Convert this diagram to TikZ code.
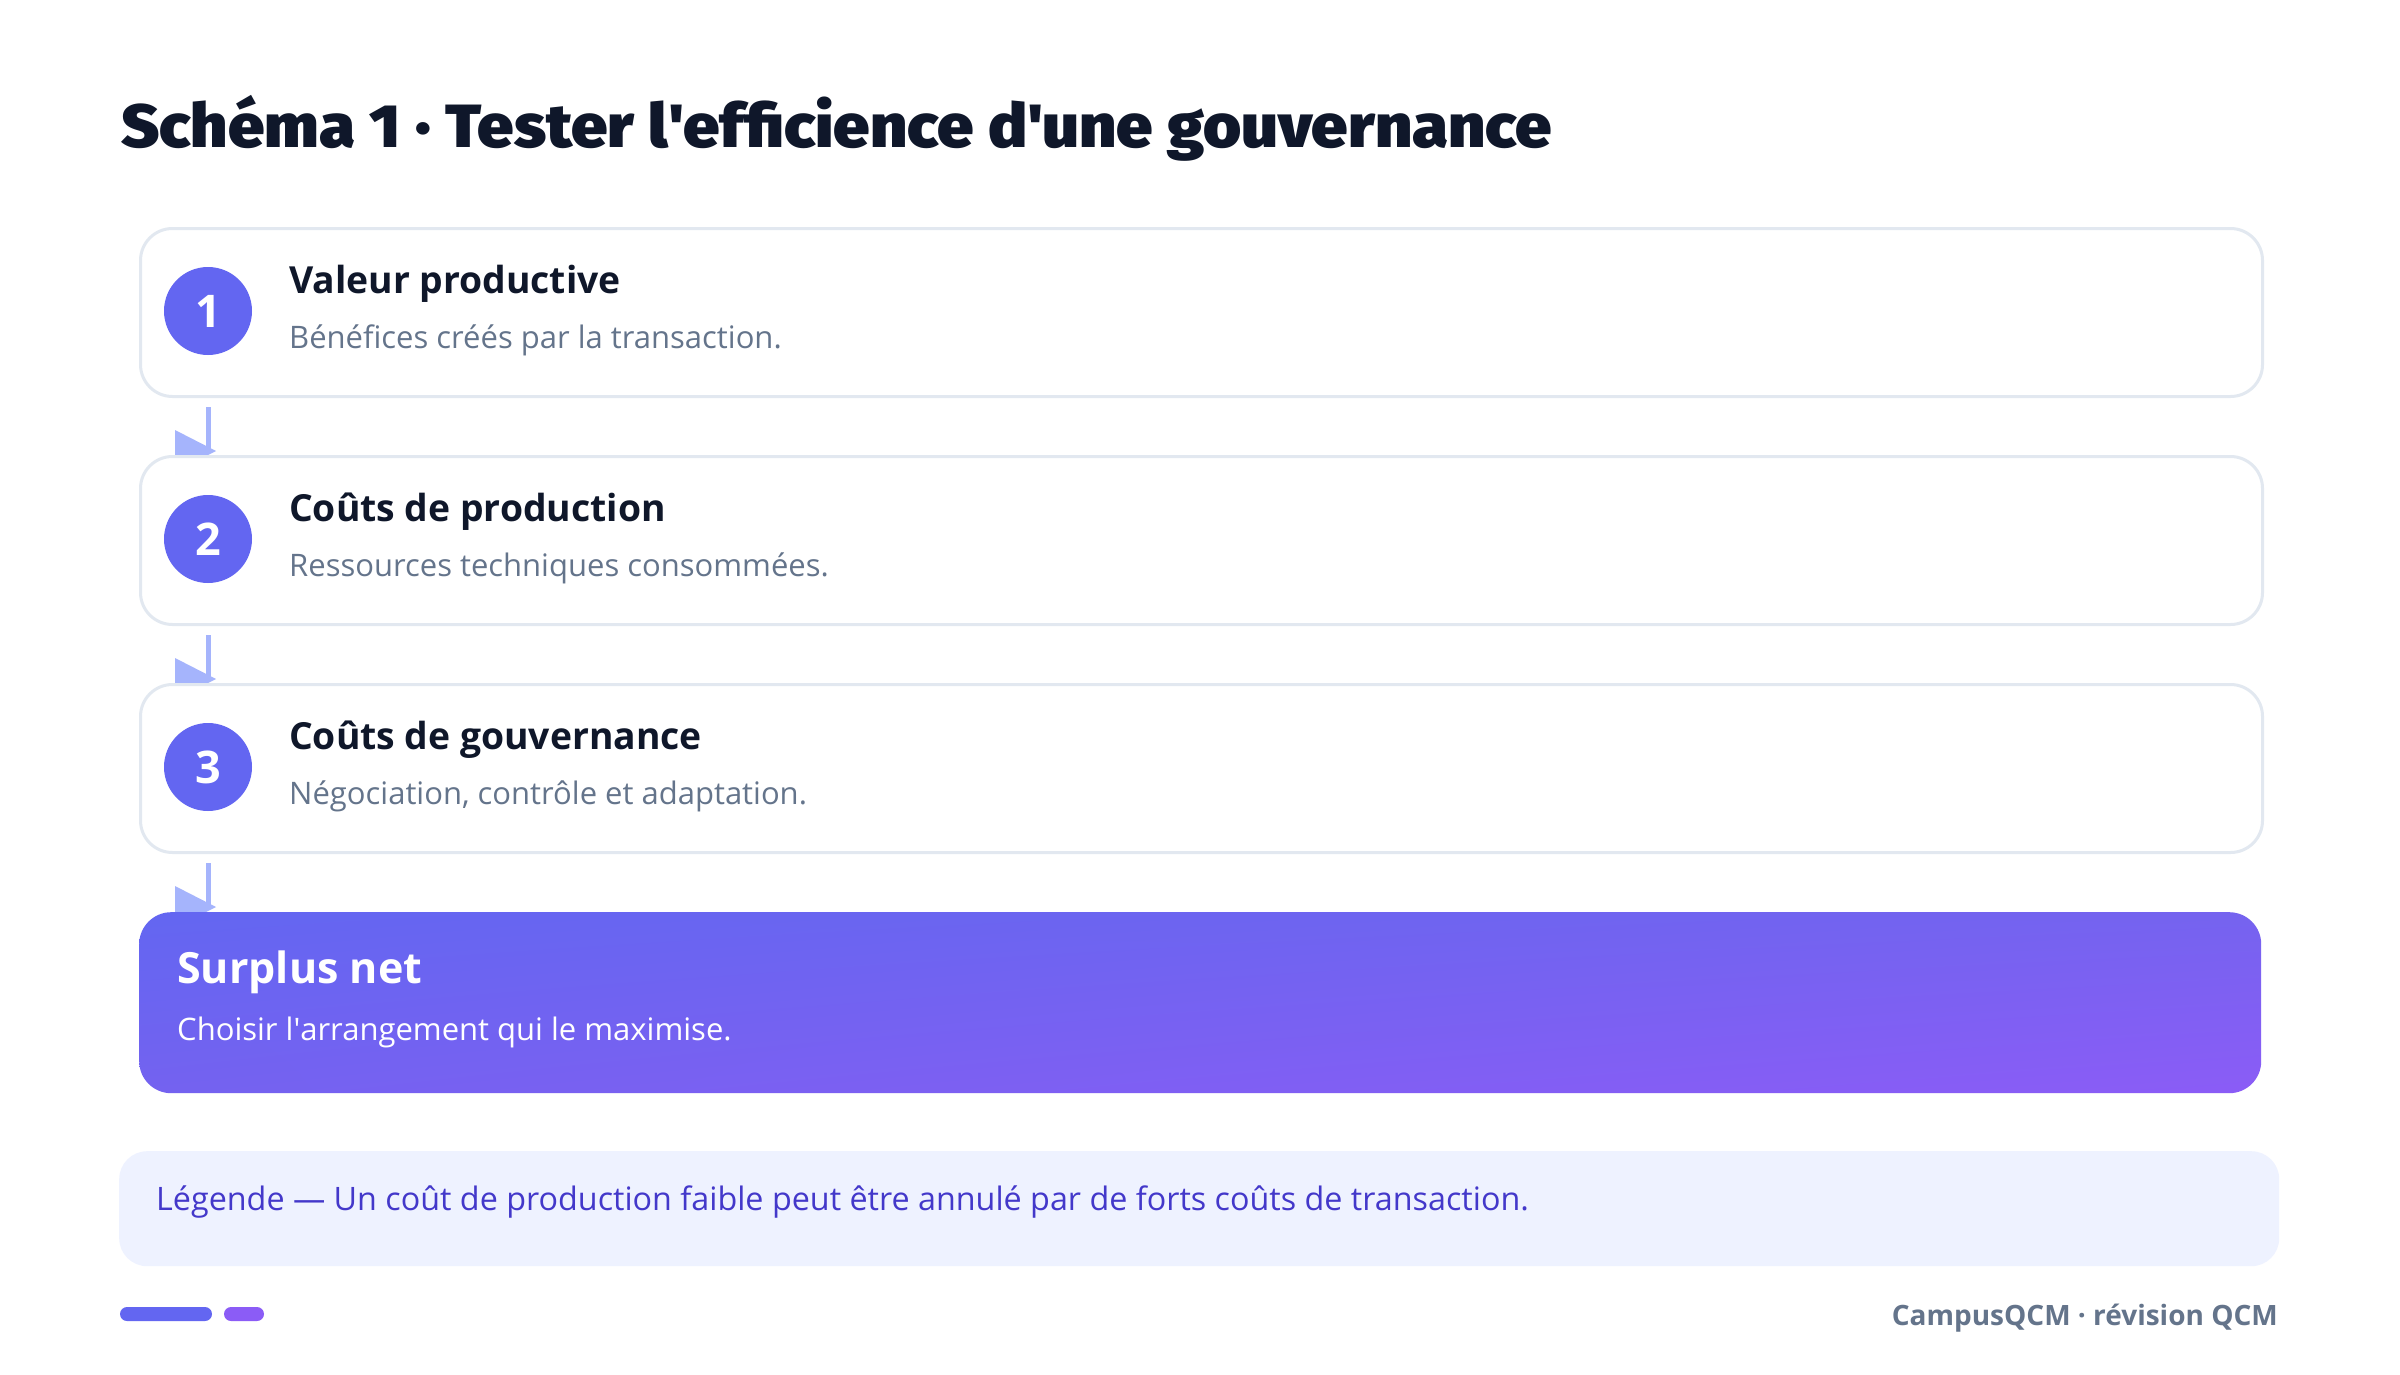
\documentclass[tikz,border=0pt]{standalone}
\usepackage{fontspec}
\setmainfont{Open Sans}
\newfontfamily\titlefont{Fira Sans Black}[FakeStretch=1.07]
\usetikzlibrary{shadings,calc}
\pgfdeclarelayer{bg}\pgfsetlayers{bg,main}
\definecolor{ink}{HTML}{0F172A}
\definecolor{muted}{HTML}{64748B}
\definecolor{bordc}{HTML}{E2E8F0}
\definecolor{indigoc}{HTML}{6366F1}
\definecolor{violetc}{HTML}{8B5CF6}
\definecolor{arrowc}{HTML}{A5B4FC}
\definecolor{legbg}{HTML}{EEF2FF}
\definecolor{legtx}{HTML}{4338CA}
\definecolor{gUR}{HTML}{7563EF}
\definecolor{gLL}{HTML}{7462F0}
\begin{document}
\begin{tikzpicture}[x=1pt,y=-1pt,
  stepbox/.style={draw=bordc, line width=3pt, fill=white, rounded corners=32pt, minimum width=2122pt, minimum height=168pt, anchor=north west, inner sep=0pt},
  numdot/.style={circle, fill=indigoc, minimum size=88pt, inner sep=0pt, text=white, font=\fontsize{45}{45}\selectfont\bfseries},
  ttl/.style={anchor=base west, inner sep=0pt, text=ink, font=\fontsize{37.3}{44}\selectfont\bfseries},
  sub/.style={anchor=base west, inner sep=0pt, text=muted, font=\fontsize{31}{38}\selectfont},
  conn/.style={draw=arrowc, line width=5pt},
  tipc/.style={fill=arrowc}]
\useasboundingbox (0,0) rectangle (2400,1375);

\node[anchor=base west, inner sep=0pt, text=ink, font=\titlefont\fontsize{61}{70}\selectfont] (title) at (121,148) {Schéma 1 · Tester l\textquotesingle efficience d\textquotesingle une gouvernance};

\node[stepbox] (b1) at (139,227) {};
\node[numdot] (c1) at (208,311) {1};
\node[ttl] (t1) at (289,293) {Valeur productive};
\node[sub] (s1) at (289,348) {Bénéfices créés par la transaction.};

\node[stepbox] (b2) at (139,455) {};
\node[numdot] (c2) at (208,539) {2};
\node[ttl] (t2) at (289,521) {Coûts de production};
\node[sub] (s2) at (289,576) {Ressources techniques consommées.};

\node[stepbox] (b3) at (139,683) {};
\node[numdot] (c3) at (208,767) {3};
\node[ttl] (t3) at (289,749) {Coûts de gouvernance};
\node[sub] (s3) at (289,804) {Négociation, contrôle et adaptation.};

\node[minimum width=2122pt, minimum height=181pt, anchor=north west, rounded corners=32pt, inner sep=0pt,
      upper left=indigoc, upper right=gUR, lower left=gLL, lower right=violetc] (sp) at (139,912) {};
\node[anchor=base west, inner sep=0pt, text=white, font=\fontsize{43}{50}\selectfont\bfseries] (spt) at (177,983) {Surplus net};
\node[anchor=base west, inner sep=0pt, text=white, font=\fontsize{31}{38}\selectfont] (sps) at (177,1040) {Choisir l\textquotesingle arrangement qui le maximise.};

\begin{pgfonlayer}{bg}
\fill[white] (0,0) rectangle (2400,1375);
\foreach \a in {b1, b2, b3}{
  \coordinate (s) at ($(\a.south -| c1.center)+(0,-9pt)$);
  \coordinate (e) at ($(\a.south -| c1.center)+(0,-53pt)$);
  \draw[conn] (s) -- (e);
  \fill[tipc] ($(e)+(8pt,0)$) -- ++(-41pt,21pt) -- ++(0,-42pt) -- cycle;
}
\end{pgfonlayer}

\node[fill=legbg, rounded corners=28pt, minimum width=2160pt, minimum height=115pt, anchor=north west, inner sep=0pt] (leg) at (119,1151) {};
\node[anchor=base west, inner sep=0pt, text=legtx, font=\fontsize{32.3}{40}\selectfont] (legt) at (156,1210) {Légende — Un coût de production faible peut être annulé par de forts coûts de transaction.};

\fill[indigoc, rounded corners=7pt] (120,1307) rectangle (212,1321);
\fill[violetc, rounded corners=7pt] (224,1307) rectangle (264,1321);
\node[anchor=base east, inner sep=0pt, text=muted, font=\fontsize{28}{34}\selectfont\bfseries] (foot) at (2278,1325) {CampusQCM · révision QCM};
\end{tikzpicture}
\end{document}
